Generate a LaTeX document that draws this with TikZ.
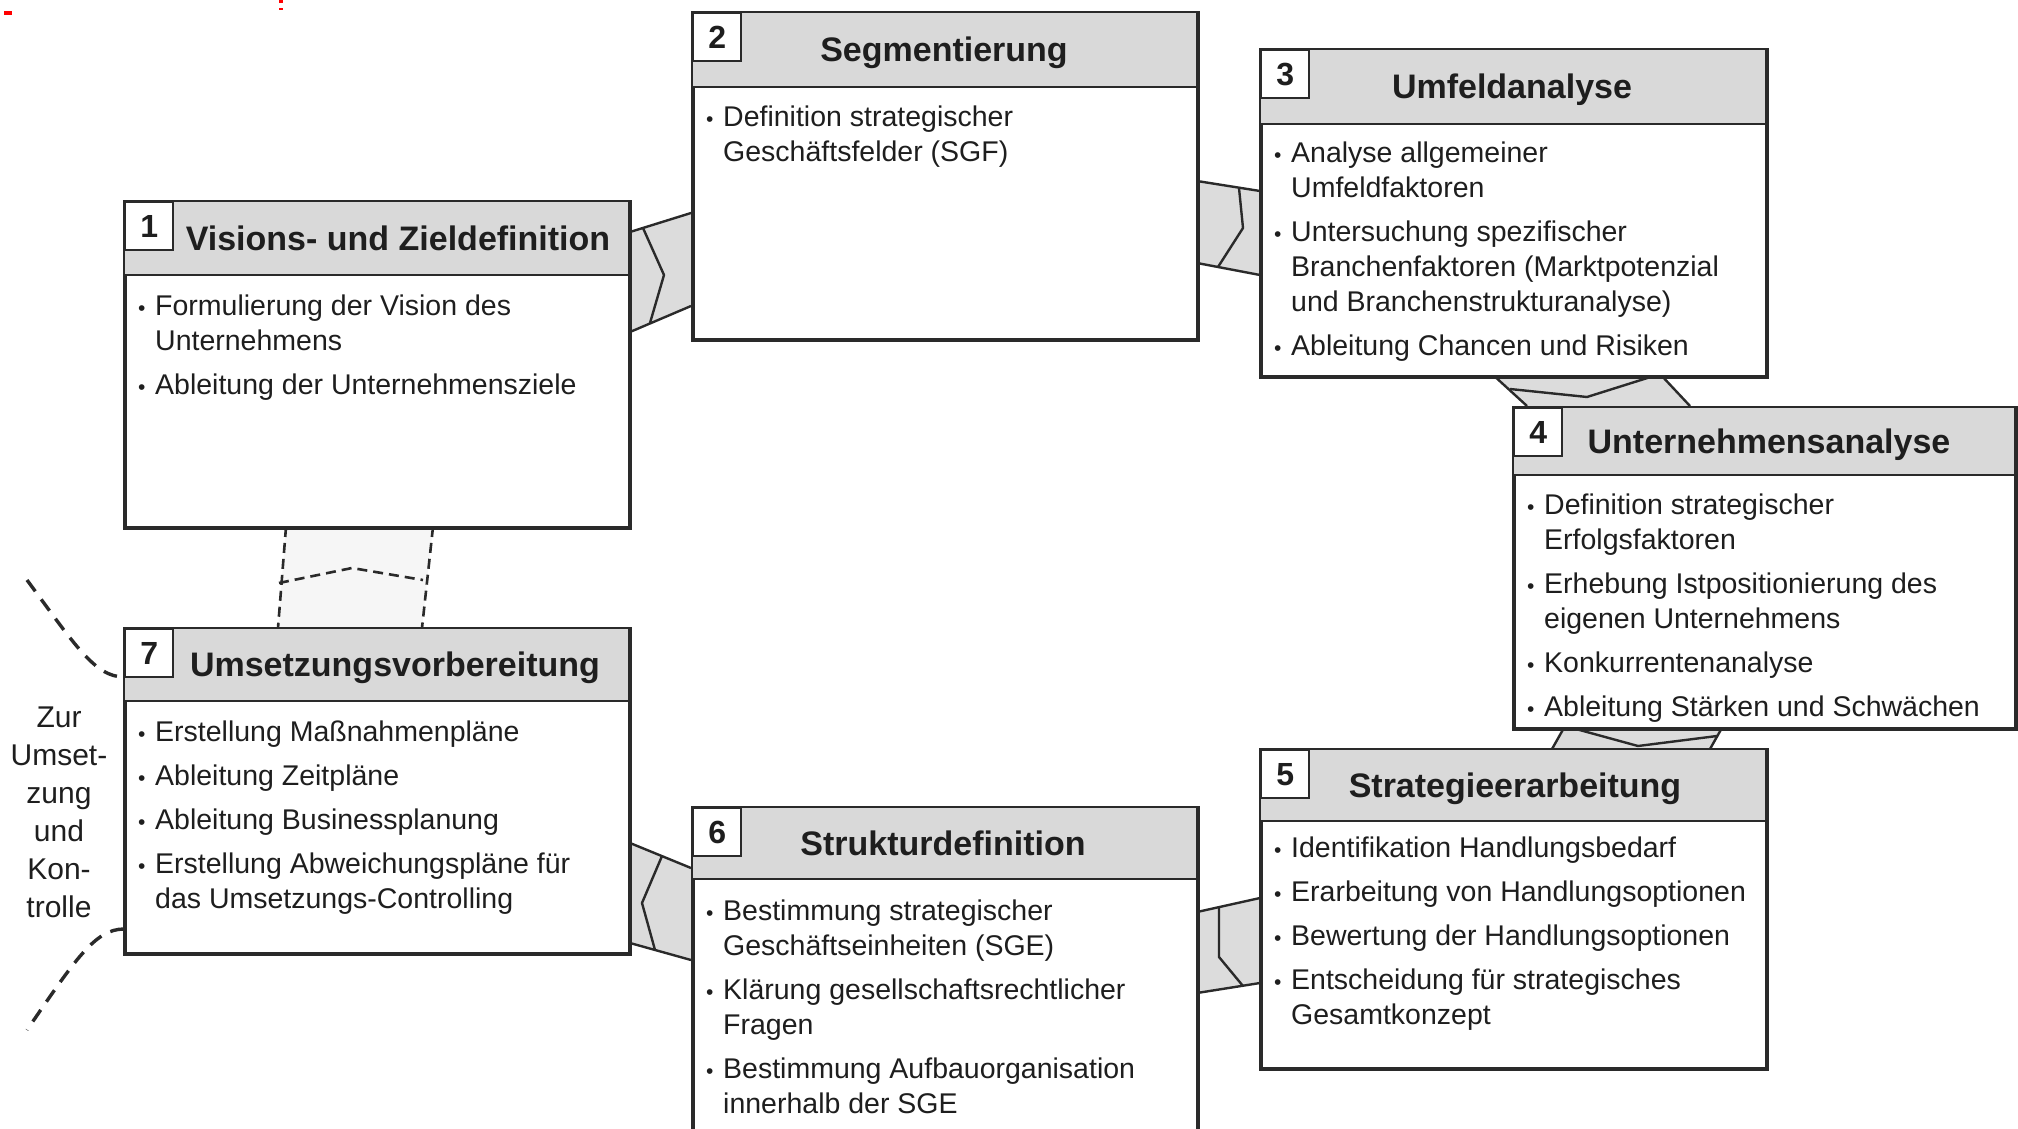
\documentclass[tikz,border=0pt]{standalone}
\usepackage{fontspec}
\setmainfont{Liberation Sans}
\usetikzlibrary{calc}

\definecolor{edge}{HTML}{2A2A2A}
\definecolor{headgray}{HTML}{D9D9D9}
\definecolor{linkgray}{HTML}{DCDCDC}
\definecolor{linklight}{HTML}{F6F6F6}
\definecolor{ink}{HTML}{1E1E1E}

\tikzset{
  stagebox/.style={draw=edge, line width=2.6pt, fill=white, inner sep=0pt, anchor=north west},
  numbox/.style={draw=edge, line width=2.4pt, fill=white, inner sep=0pt, minimum size=48pt,
    anchor=north west, text=ink, font=\fontsize{32}{32}\selectfont\bfseries},
  titletext/.style={anchor=base, inner sep=0pt, text=ink, font=\fontsize{34}{40}\selectfont\bfseries},
  bodytext/.style={anchor=north west, inner sep=0pt, align=left, text=ink,
    font=\fontsize{28.5}{35}\selectfont},
  sidetext/.style={anchor=north, inner sep=0pt, align=center, text=ink,
    font=\fontsize{30}{38}\selectfont},
  linkshape/.style={fill=linkgray},
  linkedge/.style={draw=edge, line width=2.4pt, line join=round},
  softshape/.style={fill=linklight},
  softedge/.style={draw=edge, line width=2.6pt, dash pattern=on 10pt off 6pt},
  sidecurve/.style={draw=edge, line width=3.4pt, dash pattern=on 14pt off 10pt}
}

% bullet and continuation indent for the item lists
\newcommand\bl{\makebox[17pt][l]{\raisebox{0.5pt}{\fontsize{21}{21}\selectfont\textbullet}}}
\newcommand\ct{\makebox[17pt]{}}

% stage box: name, x1, y1, x2, y2, header bottom, number, title centre x, title
\newcommand\stage[9]{%
  \node[stagebox, minimum width={#4-#2}, minimum height={#5-#3}] (#1) at (#2,#3) {};
  \fill[headgray] (#2,#3) rectangle (#4,#6);
  \draw[edge, line width=2.6pt] (#2,#6) -- (#4,#6);
  \draw[edge, line width=2.6pt] (#1.north west) rectangle (#1.south east);
  \node[numbox] (#1num) at (#2,#3) {#7};
  \node[titletext] (#1title) at (#8,{(#3+#6)/2+12}) {#9};
}

\begin{document}
\begin{tikzpicture}[x=1pt, y=-1pt]
\useasboundingbox (0,0) rectangle (2018,1129);
\clip (0,0) rectangle (2018,1129);

% small red marks in the top left corner
\fill[red] (4,11) rectangle (12,15);
\fill[red] (279,0) rectangle (283,3);
\fill[red] (279,8) rectangle (283,10);

% ---- links between the stages ----
% 1 -> 2
\coordinate (l12a) at (630,232); \coordinate (l12b) at (691,213);
\coordinate (l12c) at (691,306); \coordinate (l12d) at (630,332);
\fill[linkshape] (l12a) -- (l12b) -- (l12c) -- (l12d) -- cycle;
\draw[linkedge] (l12a) -- (l12b) (l12d) -- (l12c);
\draw[linkedge] (643,228) -- (664,275) -- (650,323);

% 2 -> 3
\coordinate (l23a) at (1197,181); \coordinate (l23b) at (1260,191);
\coordinate (l23c) at (1260,275); \coordinate (l23d) at (1197,263);
\fill[linkshape] (l23a) -- (l23b) -- (l23c) -- (l23d) -- cycle;
\draw[linkedge] (l23a) -- (l23b) (l23d) -- (l23c);
\draw[linkedge] (1239,188) -- (1243,228) -- (1218,267);

% 3 -> 4
\coordinate (l34a) at (1492,374); \coordinate (l34b) at (1660,374);
\coordinate (l34c) at (1690,406); \coordinate (l34d) at (1527,406);
\fill[linkshape] (l34a) -- (l34b) -- (l34c) -- (l34d) -- cycle;
\draw[linkedge] (l34a) -- (l34d) (l34b) -- (l34c);
\draw[linkedge] (1510,389) -- (1587,397) -- (l34b);

% 4 -> 5
\coordinate (l45a) at (1565,726); \coordinate (l45b) at (1723,726);
\coordinate (l45c) at (1710,749); \coordinate (l45d) at (1552,749);
\fill[linkshape] (l45a) -- (l45b) -- (l45c) -- (l45d) -- cycle;
\draw[linkedge] (l45a) -- (l45d) (l45b) -- (l45c);
\draw[linkedge] (l45a) -- (1638,746) -- (1717,736);

% 5 -> 6
\coordinate (l56a) at (1197,912); \coordinate (l56b) at (1260,898);
\coordinate (l56c) at (1260,983); \coordinate (l56d) at (1197,993);
\fill[linkshape] (l56a) -- (l56b) -- (l56c) -- (l56d) -- cycle;
\draw[linkedge] (l56a) -- (l56b) (l56d) -- (l56c);
\draw[linkedge] (1219,907) -- (1219,957) -- (1243,986);

% 6 -> 7
\coordinate (l67a) at (630,843); \coordinate (l67b) at (691,868);
\coordinate (l67c) at (691,960); \coordinate (l67d) at (630,943);
\fill[linkshape] (l67a) -- (l67b) -- (l67c) -- (l67d) -- cycle;
\draw[linkedge] (l67a) -- (l67b) (l67d) -- (l67c);
\draw[linkedge] (662,856) -- (642,903) -- (655,950);

% 7 -> 1 (dashed return)
\coordinate (l71a) at (286,527); \coordinate (l71b) at (433,527);
\coordinate (l71c) at (422,628); \coordinate (l71d) at (278,628);
\fill[softshape] (l71a) -- (l71b) -- (l71c) -- (l71d) -- cycle;
\draw[softedge] (l71a) -- (l71d) (l71b) -- (l71c);
\draw[softedge] (279,583) -- (352,568) -- (423,580);

% ---- stages ----
\stage{b1}{124}{201}{628}{526}{275}{1}{398}{Visions- und Zieldefinition}
\stage{b2}{692}{12}{1196}{338}{87}{2}{944}{Segmentierung}
\stage{b3}{1260}{49}{1765}{375}{124}{3}{1512}{Umfeldanalyse}
\stage{b4}{1513}{407}{2014}{727}{475}{4}{1769}{Unternehmensanalyse}
\stage{b5}{1260}{749}{1765}{1067}{821}{5}{1515}{Strategieerarbeitung}
\stage{b6}{692}{807}{1196}{1140}{879}{6}{943}{Strukturdefinition}
\stage{b7}{124}{628}{628}{952}{701}{7}{395}{Umsetzungsvorbereitung}

% ---- item lists ----
\node[bodytext] (b1text) at (138,295) {%
  \bl Formulierung der Vision des\\ \ct Unternehmens\\[9pt]
  \bl Ableitung der Unternehmensziele};
\node[bodytext] (b2text) at (706,106) {%
  \bl Definition strategischer\\ \ct Geschäftsfelder (SGF)};
\node[bodytext] (b3text) at (1274,142) {%
  \bl Analyse allgemeiner\\ \ct Umfeldfaktoren\\[9pt]
  \bl Untersuchung spezifischer\\ \ct Branchenfaktoren (Marktpotenzial\\ \ct und Branchenstrukturanalyse)\\[9pt]
  \bl Ableitung Chancen und Risiken};
\node[bodytext] (b4text) at (1527,494) {%
  \bl Definition strategischer\\ \ct Erfolgsfaktoren\\[9pt]
  \bl Erhebung Istpositionierung des\\ \ct eigenen Unternehmens\\[9pt]
  \bl Konkurrentenanalyse\\[9pt]
  \bl Ableitung Stärken und Schwächen};
\node[bodytext] (b5text) at (1274,837) {%
  \bl Identifikation Handlungsbedarf\\[9pt]
  \bl Erarbeitung von Handlungsoptionen\\[9pt]
  \bl Bewertung der Handlungsoptionen\\[9pt]
  \bl Entscheidung für strategisches\\ \ct Gesamtkonzept};
\node[bodytext] (b6text) at (706,900) {%
  \bl Bestimmung strategischer\\ \ct Geschäftseinheiten (SGE)\\[9pt]
  \bl Klärung gesellschaftsrechtlicher\\ \ct Fragen\\[9pt]
  \bl Bestimmung Aufbauorganisation\\ \ct innerhalb der SGE};
\node[bodytext] (b7text) at (138,721) {%
  \bl Erstellung Maßnahmenpläne\\[9pt]
  \bl Ableitung Zeitpläne\\[9pt]
  \bl Ableitung Businessplanung\\[9pt]
  \bl Erstellung Abweichungspläne für\\ \ct das Umsetzungs-Controlling};

% ---- hand-over to implementation and control ----
\node[sidetext] (side) at (59,707) {Zur\\Umset-\\zung\\und\\Kon-\\trolle};
\coordinate (upperend) at (27,580);
\coordinate (lowerend) at (27,1030);
\draw[sidecurve] (upperend) .. controls (75,645) and (95,677) .. (b7.west |- 0,677);
\draw[sidecurve] (b7.west |- 0,929) .. controls (95,929) and (75,960) .. (lowerend);
\end{tikzpicture}
\end{document}
